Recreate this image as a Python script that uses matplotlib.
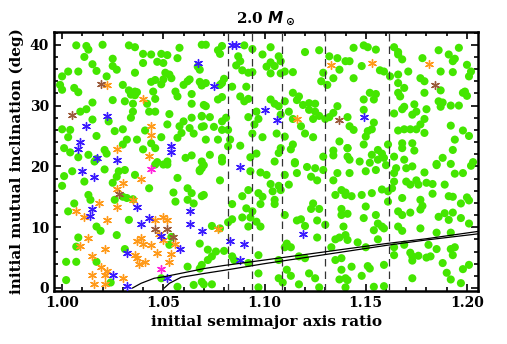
import matplotlib.pyplot as plt
from matplotlib.ticker import MultipleLocator

# (semimajor axis ratio, inclination in deg)
green = [
    # upper left
    (1.007, 39.9), (1.012, 39.8), (1.013, 39.2), (1.020, 40.0), (1.033, 39.9), (1.036, 39.6),
    (1.058, 39.5), (1.069, 40.0), (1.011, 38.0), (1.040, 38.5), (1.044, 38.4), (1.049, 38.5),
    (1.052, 38.3), (1.057, 37.8), (1.025, 37.7), (1.015, 36.8), (1.040, 37.0), (1.047, 37.2),
    (1.050, 37.0), (1.067, 36.4), (1.003, 35.6), (1.008, 35.6), (1.017, 35.7), (1.027, 35.9),
    (1.025, 36.5), (1.036, 35.4), (1.051, 35.4), (1.000, 34.8), (1.022, 34.8), (1.053, 35.1),
    (1.046, 34.2), (1.044, 33.9), (1.050, 34.3), (1.054, 34.5), (1.063, 34.3), (1.068, 33.9),
    (0.999, 33.4), (1.000, 32.6), (1.006, 32.9), (1.008, 32.2), (1.030, 33.4), (1.033, 32.5),
    (1.036, 32.3), (1.034, 31.8), (1.037, 32.2), (1.045, 32.3), (1.049, 33.5), (1.056, 32.3),
    (1.060, 33.4), (1.062, 34.0), (1.069, 33.4), (1.025, 30.9), (1.031, 30.7), (1.015, 30.5),
    (1.035, 30.3), (1.036, 31.7), (1.046, 31.1), (1.042, 30.3), (1.057, 31.5), (1.064, 31.9),
    (1.064, 30.3), (1.012, 29.4), (1.009, 29.0), (1.035, 29.0), (1.043, 29.0), (1.046, 29.0),
    (1.053, 28.6), (1.060, 27.4), (1.064, 28.0), (1.069, 28.2), (1.015, 27.7), (1.023, 27.4),
    (1.034, 28.0), (1.052, 26.9), (1.058, 26.6), (1.063, 26.3), (1.000, 26.1), (1.004, 26.0),
    (1.030, 26.1), (1.026, 25.8), (1.041, 25.9), (1.017, 25.0), (1.003, 24.8), (1.059, 25.5),
    (1.065, 25.4), (1.069, 26.5), (1.032, 24.4), (1.037, 24.4), (1.049, 24.8), (1.057, 24.7),
    (1.044, 23.8), (1.046, 23.0), (1.001, 23.0), (1.004, 22.3), (1.013, 21.9), (1.021, 22.7),
    (1.022, 22.1), (1.030, 23.6), (1.040, 22.8), (1.008, 21.5), (1.017, 21.2), (1.047, 20.7),
    (1.052, 20.8), (1.061, 21.4), (1.064, 21.8),
    # upper middle
    (1.071, 40.0), (1.077, 39.1), (1.079, 39.8), (1.078, 38.5), (1.090, 39.9), (1.094, 39.3),
    (1.103, 39.6), (1.099, 38.4), (1.120, 38.8), (1.127, 39.1), (1.136, 37.8), (1.132, 38.1),
    (1.140, 37.3), (1.087, 38.1), (1.088, 37.3), (1.086, 36.6), (1.107, 38.1), (1.103, 37.1),
    (1.105, 36.5), (1.108, 37.3), (1.101, 36.4), (1.089, 35.8), (1.094, 35.5), (1.092, 35.4),
    (1.103, 35.3), (1.108, 35.3), (1.110, 35.6), (1.114, 35.5), (1.137, 35.9), (1.129, 35.4),
    (1.128, 34.0), (1.131, 33.4), (1.134, 34.5), (1.068, 35.9), (1.080, 34.4), (1.079, 33.7),
    (1.078, 33.4), (1.084, 33.1), (1.091, 33.1), (1.071, 33.7), (1.069, 33.3), (1.077, 31.0),
    (1.079, 31.4), (1.088, 31.5), (1.090, 30.7), (1.092, 31.1), (1.071, 29.9), (1.070, 30.1),
    (1.103, 31.0), (1.105, 30.3), (1.110, 30.7), (1.114, 32.1), (1.117, 31.5), (1.116, 30.9),
    (1.119, 30.1), (1.122, 30.4), (1.125, 30.3), (1.122, 29.3), (1.125, 29.0), (1.112, 29.0),
    (1.108, 28.5), (1.107, 29.9), (1.096, 29.0), (1.092, 28.1), (1.097, 27.8), (1.095, 26.9),
    (1.069, 28.3), (1.073, 28.1), (1.081, 28.0), (1.079, 27.4), (1.070, 26.6), (1.075, 26.5),
    (1.079, 26.0), (1.082, 26.0), (1.071, 24.4), (1.077, 24.4), (1.083, 24.4), (1.088, 23.4),
    (1.094, 25.4), (1.099, 24.8), (1.106, 25.4), (1.110, 24.9), (1.114, 27.8), (1.118, 26.6),
    (1.120, 25.4), (1.124, 24.8), (1.124, 27.8), (1.127, 28.3), (1.130, 27.8), (1.132, 28.1),
    (1.134, 28.8), (1.136, 29.9), (1.141, 28.1), (1.137, 24.1), (1.141, 23.0), (1.134, 22.6),
    (1.134, 21.8), (1.129, 21.6), (1.114, 23.6), (1.113, 22.8), (1.108, 23.0), (1.107, 22.2),
    (1.105, 20.8), (1.096, 22.1), (1.093, 21.5), (1.082, 23.3), (1.079, 21.4), (1.073, 21.9),
    (1.115, 20.7), (1.142, 21.1),
    # upper right
    (1.144, 39.5), (1.149, 39.9), (1.151, 39.6), (1.155, 39.2), (1.142, 37.3), (1.148, 36.5),
    (1.157, 35.8), (1.159, 35.6), (1.144, 34.5), (1.162, 34.8), (1.164, 39.6), (1.166, 38.4),
    (1.168, 37.6), (1.166, 38.8), (1.178, 37.8), (1.186, 39.1), (1.196, 39.5), (1.191, 38.4),
    (1.194, 37.7), (1.193, 37.3), (1.200, 36.7), (1.202, 35.6), (1.201, 34.8), (1.187, 35.6),
    (1.193, 35.5), (1.171, 35.6), (1.166, 35.1), (1.177, 34.5), (1.179, 34.0), (1.166, 33.7),
    (1.169, 32.9), (1.179, 32.1), (1.166, 32.1), (1.167, 31.5), (1.152, 32.1), (1.155, 31.9),
    (1.154, 31.0), (1.149, 31.0), (1.187, 32.5), (1.186, 30.7), (1.188, 30.5), (1.187, 29.8),
    (1.192, 30.0), (1.196, 30.0), (1.198, 32.1), (1.200, 31.6), (1.199, 32.3), (1.174, 30.2),
    (1.175, 29.0), (1.169, 29.8), (1.168, 29.4), (1.180, 29.4), (1.173, 28.5), (1.179, 27.8),
    (1.177, 26.9), (1.175, 26.1), (1.172, 26.1), (1.179, 25.5), (1.164, 28.7), (1.149, 29.3),
    (1.154, 27.2), (1.153, 26.1), (1.151, 25.8), (1.150, 24.9), (1.142, 26.6), (1.144, 26.0),
    (1.166, 25.9), (1.169, 26.1), (1.168, 23.8), (1.168, 23.0), (1.173, 23.8), (1.192, 26.7),
    (1.198, 25.9), (1.194, 24.4), (1.201, 25.0), (1.193, 22.7), (1.188, 21.4), (1.185, 20.4),
    (1.149, 23.6), (1.141, 23.0), (1.141, 21.6), (1.153, 21.9), (1.156, 22.7), (1.158, 22.1),
    (1.159, 21.4), (1.156, 21.1), (1.161, 23.6), (1.164, 21.6), (1.169, 21.1), (1.174, 22.6),
    (1.203, 20.7),
    # lower left
    (1.001, 18.4), (1.000, 16.8), (1.005, 19.2), (1.011, 17.5), (1.021, 19.5), (1.027, 18.3),
    (1.025, 17.3), (1.028, 19.2), (1.031, 19.4), (1.036, 18.6), (1.043, 16.4), (1.046, 20.3),
    (1.050, 20.3), (1.052, 20.3), (1.057, 18.1), (1.062, 16.4), (1.068, 19.2), (1.069, 19.7),
    (1.069, 20.8), (1.016, 20.8), (1.013, 15.3), (1.014, 14.5), (1.006, 13.9), (1.003, 12.6),
    (1.026, 14.5), (1.030, 15.0), (1.032, 14.8), (1.035, 14.6), (1.055, 15.7), (1.056, 14.2),
    (1.062, 14.5), (1.064, 15.6), (1.065, 13.9), (1.069, 15.1), (1.033, 11.2), (1.017, 10.1),
    (1.019, 9.4), (1.027, 8.7), (1.008, 8.3), (1.007, 6.8), (1.031, 6.4), (1.053, 7.1),
    (1.054, 8.4), (1.068, 7.3), (1.002, 4.3), (1.007, 4.3), (1.017, 4.3), (1.062, 3.5),
    (1.068, 3.2), (1.002, 1.3), (1.024, 0.9), (1.049, 1.6), (1.057, 0.2), (1.065, 0.5),
    (1.069, 1.0),
    # lower middle
    (1.068, 19.4), (1.070, 20.2), (1.078, 17.7), (1.079, 20.8), (1.093, 19.2), (1.098, 19.0),
    (1.101, 18.6), (1.103, 17.1), (1.107, 16.8), (1.108, 16.1), (1.110, 18.6), (1.112, 17.0),
    (1.115, 20.5), (1.116, 18.9), (1.121, 19.9), (1.123, 18.3), (1.125, 19.7), (1.126, 17.7),
    (1.129, 19.4), (1.134, 17.7), (1.136, 18.9), (1.138, 16.1), (1.140, 15.3), (1.135, 15.3),
    (1.089, 15.1), (1.092, 16.1), (1.097, 15.6), (1.099, 15.0), (1.098, 13.8), (1.105, 14.5),
    (1.105, 13.8), (1.104, 15.9), (1.070, 15.3), (1.084, 13.8), (1.091, 13.1), (1.094, 12.6),
    (1.093, 11.6), (1.089, 11.6), (1.084, 11.3), (1.082, 10.8), (1.096, 10.9), (1.098, 10.1),
    (1.074, 10.2), (1.078, 9.8), (1.092, 10.1), (1.110, 12.0), (1.116, 11.1), (1.118, 11.3),
    (1.120, 10.2), (1.124, 13.9), (1.123, 13.0), (1.127, 13.0), (1.126, 11.1), (1.130, 10.4),
    (1.126, 8.3), (1.138, 13.0), (1.138, 12.0), (1.139, 10.1), (1.137, 8.3), (1.135, 8.0),
    (1.140, 8.7), (1.072, 6.3), (1.076, 6.0), (1.080, 6.1), (1.072, 4.6), (1.074, 5.2),
    (1.069, 3.8), (1.084, 5.2), (1.085, 4.6), (1.097, 5.4), (1.092, 4.1), (1.097, 2.4),
    (1.107, 4.6), (1.111, 7.3), (1.113, 6.7), (1.110, 6.7), (1.117, 5.2), (1.120, 4.9),
    (1.111, 3.0), (1.113, 2.0), (1.107, 1.6), (1.109, 0.9), (1.117, 0.6), (1.122, 2.4),
    (1.125, 1.6), (1.133, 6.7), (1.135, 4.6), (1.138, 4.9), (1.138, 3.0), (1.137, 1.4),
    (1.140, 1.6), (1.070, 0.6), (1.074, 0.6), (1.127, 0.1), (1.097, 0.1),
    # lower right
    (1.142, 18.9), (1.147, 20.8), (1.150, 19.2), (1.152, 20.6), (1.155, 19.4), (1.160, 20.2),
    (1.165, 19.7), (1.164, 18.9), (1.170, 19.7), (1.173, 20.0), (1.179, 19.0), (1.185, 20.2),
    (1.192, 20.4), (1.194, 18.8), (1.198, 18.9), (1.202, 20.1), (1.164, 17.5), (1.163, 16.4),
    (1.170, 17.5), (1.172, 17.0), (1.175, 17.7), (1.176, 17.0), (1.180, 17.3), (1.183, 17.1),
    (1.189, 17.0), (1.140, 15.7), (1.143, 15.1), (1.148, 15.3), (1.153, 15.6), (1.158, 16.2),
    (1.161, 15.9), (1.150, 13.4), (1.161, 14.2), (1.168, 14.8), (1.177, 14.5), (1.178, 13.5),
    (1.183, 15.5), (1.191, 15.1), (1.193, 15.0), (1.197, 13.9), (1.200, 14.9), (1.201, 14.4),
    (1.166, 12.6), (1.168, 12.0), (1.172, 12.4), (1.177, 12.9), (1.186, 11.7), (1.189, 12.3),
    (1.191, 11.2), (1.193, 12.4), (1.197, 11.5), (1.201, 10.6), (1.141, 12.2), (1.149, 11.5),
    (1.155, 12.0), (1.156, 10.6), (1.158, 10.1), (1.159, 9.8), (1.154, 9.5), (1.166, 10.1),
    (1.168, 9.4), (1.177, 9.8), (1.185, 9.1), (1.192, 9.1), (1.141, 7.9), (1.146, 7.5),
    (1.150, 6.7), (1.156, 8.0), (1.164, 6.7), (1.169, 7.1), (1.164, 5.4), (1.172, 5.8),
    (1.173, 5.2), (1.176, 5.3), (1.180, 5.0), (1.182, 5.2), (1.181, 7.1), (1.185, 6.4),
    (1.192, 6.4), (1.193, 5.4), (1.194, 6.7), (1.173, 4.5), (1.143, 3.5), (1.151, 3.6),
    (1.152, 3.2), (1.159, 3.8), (1.148, 2.0), (1.141, 1.3), (1.154, 0.2), (1.159, 0.3),
    (1.188, 4.1), (1.190, 2.5), (1.198, 3.1), (1.201, 3.8), (1.173, 1.6), (1.192, 1.4),
    (1.197, 0.8), (1.140, 0.1),
]

blue = [
    (1.067, 37.0), (1.022, 28.3), (1.012, 26.6), (1.009, 24.0), (1.008, 22.8), (1.017, 21.4),
    (1.027, 21.1), (1.054, 23.3), (1.054, 22.3), (1.084, 39.9), (1.086, 40.0), (1.075, 33.2),
    (1.100, 29.3), (1.106, 27.6), (1.149, 28.1), (1.010, 19.3), (1.016, 18.3), (1.015, 13.0),
    (1.014, 11.8), (1.043, 11.5), (1.039, 10.5), (1.049, 8.6), (1.058, 6.4), (1.063, 10.6),
    (1.069, 9.3), (1.063, 12.6), (1.037, 13.4), (1.032, 5.8), (1.025, 2.1), (1.032, 0.4),
    (1.052, 1.7), (1.088, 19.9), (1.083, 7.8), (1.090, 7.3), (1.088, 4.6), (1.119, 8.9),
]

orange = [
    (1.022, 33.4), (1.040, 31.1), (1.044, 26.6), (1.044, 25.2), (1.027, 22.8), (1.043, 21.7),
    (1.133, 36.7), (1.116, 27.8), (1.153, 37.0), (1.181, 36.8), (1.077, 9.7),
    (1.030, 17.3), (1.039, 17.9), (1.027, 16.2), (1.035, 14.5), (1.018, 13.9), (1.027, 13.4),
    (1.007, 12.6), (1.011, 11.7), (1.022, 11.2), (1.046, 11.1), (1.050, 11.6), (1.052, 11.2),
    (1.013, 8.3), (1.009, 6.9), (1.037, 7.8), (1.039, 8.2), (1.040, 7.2), (1.044, 7.1),
    (1.050, 7.9), (1.056, 7.3), (1.021, 6.4), (1.015, 5.3), (1.036, 5.4), (1.037, 4.9),
    (1.047, 5.8), (1.054, 5.6), (1.038, 4.0), (1.041, 4.3), (1.053, 4.2), (1.019, 3.4),
    (1.022, 2.8), (1.021, 2.1), (1.015, 2.1), (1.030, 1.6), (1.016, 0.6), (1.021, 0.6),
    (1.048, 8.9),
]

brown = [(1.019, 33.6), (1.005, 28.5), (1.137, 27.7), (1.184, 33.4),
         (1.028, 15.5), (1.046, 9.7), (1.052, 9.7), (1.055, 8.4)]

magenta = [(1.044, 19.5), (1.049, 3.2)]

# stability boundaries (two black curves)
curve1_x = [1.0348, 1.039, 1.0455, 1.0505, 1.060, 1.0703, 1.080, 1.100, 1.120, 1.142, 1.160, 1.180, 1.2054]
curve1_y = [0.0, 0.77, 1.6, 1.86, 2.5, 3.2, 3.7, 4.6, 5.5, 6.5, 7.3, 8.1, 9.3]
curve2_x = [1.0505, 1.053, 1.0588, 1.0703, 1.080, 1.100, 1.120, 1.142, 1.160, 1.180, 1.2054]
curve2_y = [0.0, 0.77, 1.76, 2.4, 2.9, 4.0, 5.0, 6.1, 7.0, 7.9, 8.9]

dashed_x = [1.0822, 1.0937, 1.1088, 1.1300, 1.1615]

plt.rcParams['font.family'] = 'DejaVu Serif'
plt.rcParams['font.weight'] = 'bold'

fig = plt.figure(figsize=(5.07, 3.44), dpi=100)
ax = fig.add_axes([0.1065, 0.154, 0.8365, 0.753])

ax.scatter([p[0] for p in green], [p[1] for p in green], s=34, color='#44e600',
           edgecolors='none', zorder=2)

star = (6, 2, 0)
for pts, col in [(orange, '#ff9a1a'), (blue, '#3a1aff'), (brown, '#9a5a3a'), (magenta, '#ff22dd')]:
    ax.scatter([p[0] for p in pts], [p[1] for p in pts], s=32, marker=star,
               color=col, linewidths=1.0, zorder=3)

for xv in dashed_x:
    ax.axvline(xv, color='#333333', lw=0.9, ls=(0, (6, 4)), zorder=4)

ax.plot(curve1_x, curve1_y, color='black', lw=0.9, zorder=4)
ax.plot(curve2_x, curve2_y, color='black', lw=0.9, zorder=4)

ax.set_xlim(0.996, 1.2055)
ax.set_ylim(-0.5, 42.1)
ax.xaxis.set_major_locator(MultipleLocator(0.05))
ax.xaxis.set_minor_locator(MultipleLocator(0.01))
ax.yaxis.set_major_locator(MultipleLocator(10))
ax.yaxis.set_minor_locator(MultipleLocator(2))
ax.xaxis.set_major_formatter(plt.FuncFormatter(lambda v, p: f"{v:.2f}"))
ax.tick_params(which='both', direction='in', top=True, right=True, width=1.2, labelsize=10)
ax.tick_params(which='major', length=5)
ax.tick_params(which='minor', length=3)
for s in ax.spines.values():
    s.set_linewidth(1.8)

ax.set_xlabel("initial semimajor axis ratio", fontsize=11, fontweight='bold')
ax.set_ylabel("initial mutual inclination (deg)", fontsize=11, fontweight='bold')
ax.set_title(r"2.0 $M_\odot$", fontsize=11, fontweight='bold')

fig.savefig('out.png', dpi=100)
